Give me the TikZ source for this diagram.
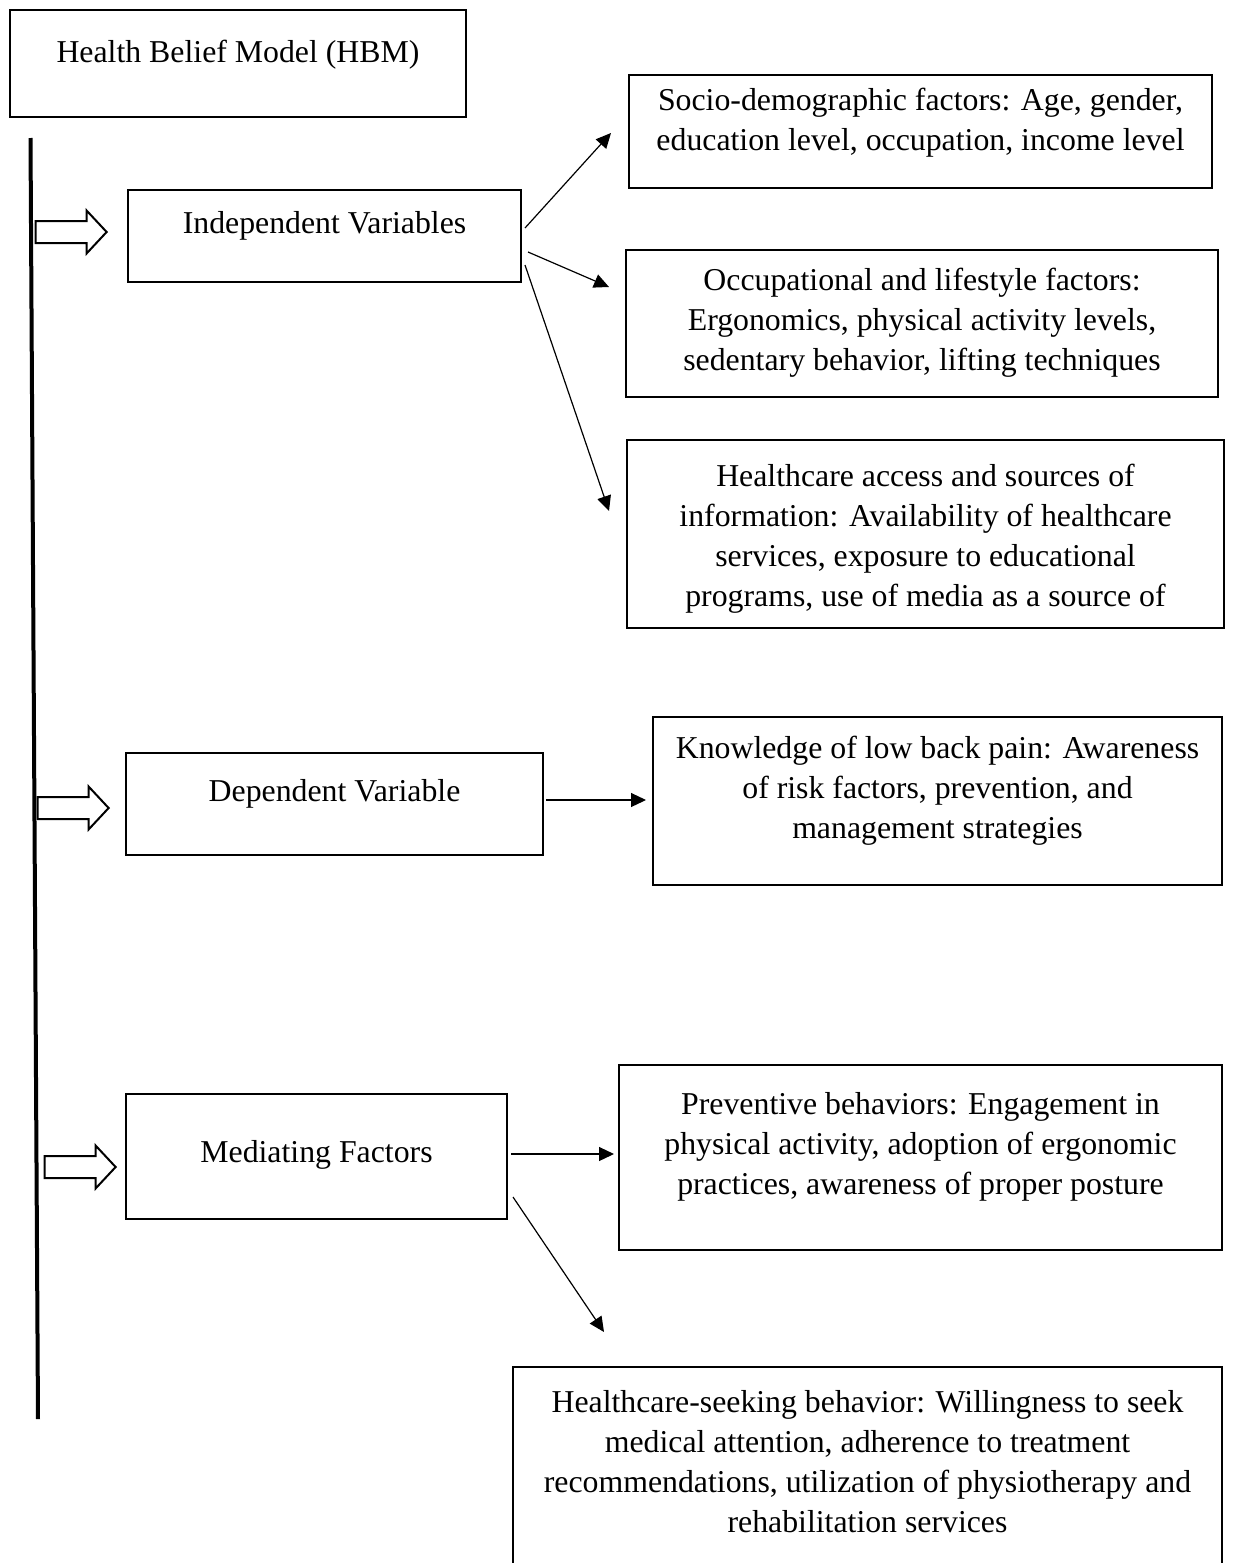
\documentclass[tikz,border=0pt]{standalone}
\usepackage{fontspec}
\setmainfont{Liberation Serif}
\usetikzlibrary{arrows.meta,shapes.arrows,positioning}

\begin{document}
\begin{tikzpicture}[x=0.5pt, y=-0.5pt,
    frame/.style={draw, line width=1pt, inner sep=0pt},
    txt/.style={align=center, inner sep=0pt, font=\fontsize{15.9pt}{20pt}\selectfont},
    link/.style={draw, line width=0.6pt, -{Triangle[length=7.5pt, width=7pt]}},
    fat/.style={single arrow, draw, line width=1pt, inner xsep=0pt, inner ysep=5pt,
        minimum height=35.5pt, single arrow head extend=5.25pt,
        single arrow tip angle=94, anchor=tip}
]
\useasboundingbox (0,0) rectangle (1232,1563);

% model and the spine
\node[frame, minimum width=228pt, minimum height=53.5pt] (hbm) at (238,63.5) {};
\node[txt] (hbmtext) at (238,55) {Health Belief Model (HBM)};
\coordinate (top) at (30.5,138);
\coordinate (bottom) at (38,1419);
\draw[line width=2pt] (top) -- (bottom);

% independent variables
\node[frame, minimum width=196.5pt, minimum height=46pt] (iv) at (324.5,236) {};
\node[txt] (ivtext) at (324.5,226) {Independent Variables};
\node[fat] (ivarrow) at (108,232) {};

\node[frame, minimum width=291.5pt, minimum height=56.5pt] (soc) at (920.5,131.5) {};
\node[txt] (soctext) at (920.5,123) {Socio-demographic factors: Age, gender,\\education level, occupation, income level};

\node[frame, minimum width=296pt, minimum height=73.5pt] (occ) at (922,323.5) {};
\node[txt] (occtext) at (922,323) {Occupational and lifestyle factors:\\Ergonomics, physical activity levels,\\sedentary behavior, lifting techniques};

\node[frame, minimum width=298.5pt, minimum height=94pt] (hca) at (925.5,534) {};
\node[txt] (hcatext) at (925.5,538.5) {Healthcare access and sources of\\information: Availability of healthcare\\services, exposure to educational\\programs, use of media as a source of};

\draw[link] ([shift={(3,-8)}]iv.east) -- ([shift={(-17,1.5)}]soc.west);
\draw[link] ([shift={(6,16)}]iv.east) -- ([shift={(-16,-36.5)}]occ.west);
\draw[link] ([shift={(3,29)}]iv.east) -- ([shift={(-17,-23)}]hca.west);

% dependent variable
\node[frame, minimum width=208.5pt, minimum height=51pt] (dv) at (334.5,804) {};
\node[txt] (dvtext) at (334.5,794) {Dependent Variable};
\node[fat] (dvarrow) at (110,808) {};

\node[frame, minimum width=284.5pt, minimum height=84pt] (know) at (937.5,801) {};
\node[txt] (knowtext) at (937.5,791) {Knowledge of low back pain: Awareness\\of risk factors, prevention, and\\management strategies};

\draw[link] ([shift={(2,-4)}]dv.east) -- ([shift={(-6,-1)}]know.west);

% mediating factors
\node[frame, minimum width=190.5pt, minimum height=62.5pt] (med) at (316.5,1156.5) {};
\node[txt] (medtext) at (316.5,1155) {Mediating Factors};
\node[fat] (medarrow) at (117,1167) {};

\node[frame, minimum width=301.5pt, minimum height=92.5pt] (prev) at (920.5,1157.5) {};
\node[txt] (prevtext) at (920.5,1147) {Preventive behaviors: Engagement in\\physical activity, adoption of ergonomic\\practices, awareness of proper posture};

\node[frame, minimum width=354.5pt, minimum height=101.5pt] (seek) at (867.5,1468.5) {};
\node[txt] (seektext) at (867.5,1461.5) {Healthcare-seeking behavior: Willingness to seek\\medical attention, adherence to treatment\\recommendations, utilization of physiotherapy and\\rehabilitation services};

\draw[link] ([shift={(3,-2.5)}]med.east) -- ([shift={(-4,-3.5)}]prev.west);
\draw[link] ([shift={(5,40.5)}]med.east) -- ([shift={(92,-34)}]seek.north west);

\end{tikzpicture}
\end{document}
